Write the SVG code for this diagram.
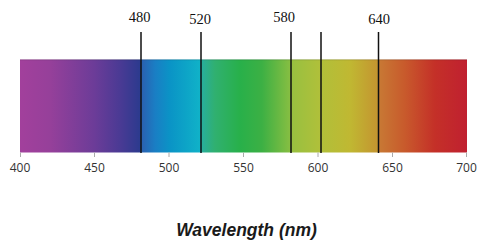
<svg xmlns="http://www.w3.org/2000/svg" width="483" height="246" viewBox="0 0 483 246">
<style>
.mark{stroke:#111;stroke-width:1.5}
.tick{stroke:#aaa;stroke-width:1}
.top{font-family:"Liberation Serif","Times New Roman",serif;font-size:14.5px;fill:#111;text-anchor:middle}
.axis{font-family:"Open Sans","Liberation Sans",sans-serif;font-size:12px;fill:#333;text-anchor:middle}
.title{font-family:"Liberation Sans",Arial,sans-serif;font-size:17.5px;font-weight:bold;font-style:italic;fill:#1a1a1a;text-anchor:middle}
</style>
<defs>
<linearGradient id="spec" x1="0" y1="0" x2="1" y2="0">
<stop offset="0" stop-color="#a2409c"/>
<stop offset="0.067" stop-color="#96409a"/>
<stop offset="0.166" stop-color="#6c3c98"/>
<stop offset="0.224" stop-color="#4a3a94"/>
<stop offset="0.268" stop-color="#2c3a8e"/>
<stop offset="0.272" stop-color="#2a60b0"/>
<stop offset="0.302" stop-color="#1a7ec4"/>
<stop offset="0.336" stop-color="#0a94c6"/>
<stop offset="0.403" stop-color="#10b2c8"/>
<stop offset="0.407" stop-color="#28ae9c"/>
<stop offset="0.436" stop-color="#30b070"/>
<stop offset="0.492" stop-color="#28b04a"/>
<stop offset="0.541" stop-color="#3cb044"/>
<stop offset="0.604" stop-color="#86be42"/>
<stop offset="0.609" stop-color="#98c040"/>
<stop offset="0.671" stop-color="#b0c03a"/>
<stop offset="0.738" stop-color="#c0b832"/>
<stop offset="0.801" stop-color="#c49430"/>
<stop offset="0.805" stop-color="#c87834"/>
<stop offset="0.861" stop-color="#c85a2c"/>
<stop offset="0.928" stop-color="#c43028"/>
<stop offset="1" stop-color="#c02030"/>
</linearGradient>
</defs>
<g id="spectrum">
<rect x="20" y="59.5" width="447" height="93" fill="url(#spec)"/>
<line x1="20" y1="59.8" x2="467" y2="59.8" stroke="#000" stroke-opacity="0.15" stroke-width="1"/>
</g>
<g id="axis">
<line class="tick" x1="20.5" y1="152.5" x2="20.5" y2="157"/>
<line class="tick" x1="94.5" y1="152.5" x2="94.5" y2="157"/>
<line class="tick" x1="169" y1="152.5" x2="169" y2="157"/>
<line class="tick" x1="243.5" y1="152.5" x2="243.5" y2="157"/>
<line class="tick" x1="318" y1="152.5" x2="318" y2="157"/>
<line class="tick" x1="392.5" y1="152.5" x2="392.5" y2="157"/>
<line class="tick" x1="466.5" y1="152.5" x2="466.5" y2="157"/>
<text class="axis" x="20" y="172">400</text>
<text class="axis" x="94.5" y="172">450</text>
<text class="axis" x="169" y="172">500</text>
<text class="axis" x="243.5" y="172">550</text>
<text class="axis" x="318" y="172">600</text>
<text class="axis" x="392.5" y="172">650</text>
<text class="axis" x="466.5" y="172">700</text>
</g>
<g id="connectors">
<line class="mark" x1="141" y1="32" x2="141" y2="153"/>
<line class="mark" x1="201" y1="32" x2="201" y2="153"/>
<line class="mark" x1="291" y1="32" x2="291" y2="153"/>
<line class="mark" x1="321" y1="32" x2="321" y2="153"/>
<line class="mark" x1="378.5" y1="32" x2="378.5" y2="153"/>
</g>
<g id="labels">
<text class="top" x="139.5" y="22">480</text>
<text class="top" x="200" y="24">520</text>
<text class="top" x="284" y="22">580</text>
<text class="top" x="379" y="24">640</text>
</g>
<g id="title">
<text class="title" x="246.5" y="236">Wavelength (nm)</text>
</g>
</svg>
